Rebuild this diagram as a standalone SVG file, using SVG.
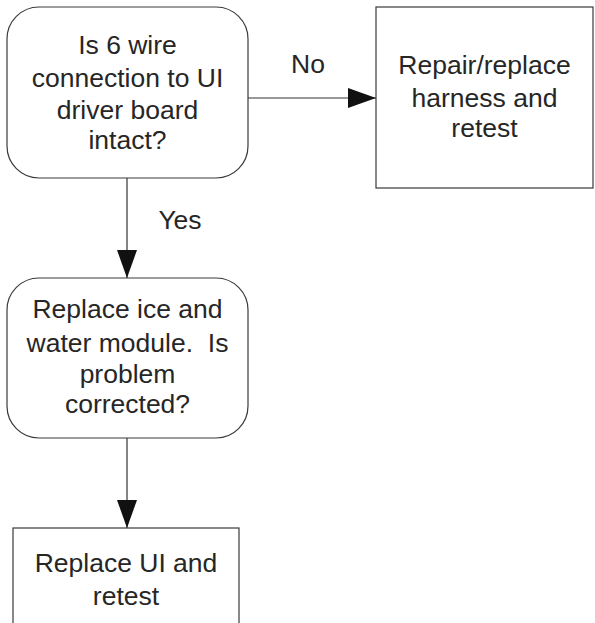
<svg xmlns="http://www.w3.org/2000/svg" width="595" height="623" viewBox="0 0 595 623">
<style>
.box{fill:#fff;stroke:#3a3a3a;stroke-width:1.2}
.t{font-family:"Liberation Sans",Arial,sans-serif;font-size:26.5px;fill:#262626;text-anchor:middle}
.c{stroke:#333;stroke-width:1.2;fill:none}
</style>
<defs>
<marker id="ah" markerWidth="28" markerHeight="20" refX="28" refY="10" orient="auto" markerUnits="userSpaceOnUse">
<path d="M0,0 L28,10 L0,20 Z" fill="#111"/>
</marker>
</defs>
<rect width="595" height="623" fill="#fff"/>
<g id="connectors">
<line class="c" x1="248" y1="98" x2="376" y2="98" marker-end="url(#ah)"/>
<line class="c" x1="127" y1="178" x2="127" y2="278" marker-end="url(#ah)"/>
<line class="c" x1="127" y1="438" x2="127" y2="528" marker-end="url(#ah)"/>
<text class="t" x="308" y="73">No</text>
<text class="t" x="180" y="229">Yes</text>
</g>
<g id="q1">
<rect class="box" x="7" y="7" width="241" height="171" rx="32" ry="32"/>
<text class="t" x="127.5" y="54">Is 6 wire</text>
<text class="t" x="127.5" y="87">connection to UI</text>
<text class="t" x="127.5" y="119">driver board</text>
<text class="t" x="127.5" y="149">intact?</text>
</g>
<g id="repair">
<rect class="box" x="376" y="7" width="217" height="181"/>
<text class="t" x="484.5" y="74">Repair/replace</text>
<text class="t" x="484.5" y="107">harness and</text>
<text class="t" x="484.5" y="137">retest</text>
</g>
<g id="q2">
<rect class="box" x="7" y="278" width="241" height="160" rx="32" ry="32"/>
<text class="t" x="127.5" y="318">Replace ice and</text>
<text class="t" x="127.5" y="352" xml:space="preserve">water module.  Is</text>
<text class="t" x="127.5" y="383">problem</text>
<text class="t" x="127.5" y="413">corrected?</text>
</g>
<g id="replaceui">
<rect class="box" x="13" y="528" width="226" height="110"/>
<text class="t" x="126" y="572">Replace UI and</text>
<text class="t" x="126" y="605">retest</text>
</g>
</svg>
